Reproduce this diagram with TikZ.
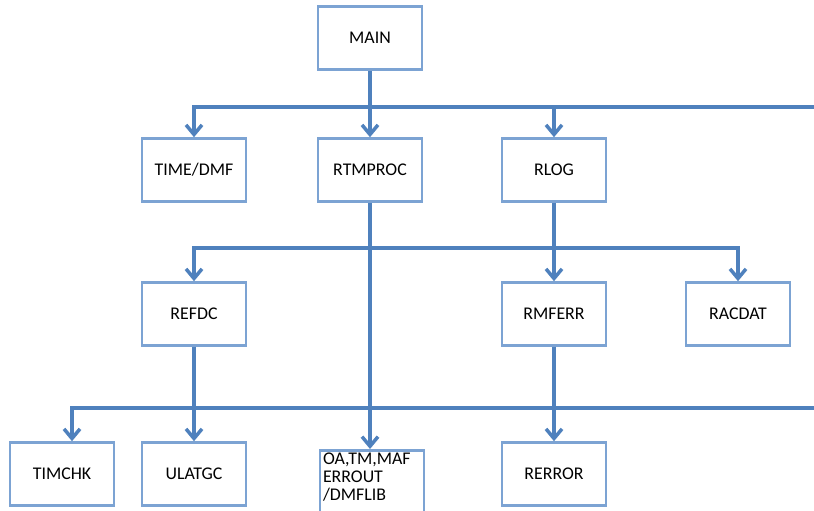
\documentclass[tikz,border=0pt]{standalone}
\usepackage{fontspec}
\setmainfont{Carlito}
\usetikzlibrary{arrows.meta,shadows}
\definecolor{linkblue}{RGB}{79,129,189}
\definecolor{boxblue}{RGB}{124,163,211}

\begin{document}
\begin{tikzpicture}[
    mybox/.style={draw=boxblue, line width=1.8pt, fill=white, minimum width=2.6cm, minimum height=1.575cm,
      font=\fontsize{12.7pt}{12.9pt}\selectfont,
      drop shadow={opacity=0.25, shadow xshift=0.7pt, shadow yshift=-0.9pt}},
    myarrow/.style={draw=linkblue, line width=2.5pt, -{Straight Barb[length=2.4mm,width=4mm]}}
  ]
  \useasboundingbox (0,0) rectangle (20.35,12.75);

  % boxes
  \node[mybox] (main) at (9.25,11.8) {MAIN};

  \node[mybox] (timedmf) at (4.85,8.5) {TIME/DMF};
  \node[mybox] (rtmproc) at (9.25,8.5) {RTMPROC};
  \node[mybox] (rlog) at (13.85,8.5) {RLOG};

  \node[mybox] (refdc) at (4.85,4.9) {REFDC};
  \node[mybox] (rmferr) at (13.85,4.9) {RMFERR};
  \node[mybox] (racdat) at (18.45,4.9) {RACDAT};

  \node[mybox] (timchk) at (1.55,0.9) {TIMCHK};
  \node[mybox] (ulatgc) at (4.85,0.9) {ULATGC};
  \node[mybox, anchor=north, align=left, text width=2.45cm, minimum height=0cm, inner sep=1.6pt,
    text depth=1.5cm] (oalib) at (9.3,1.525) {OA,TM,MAF\\ERROUT\\/DMFLIB};
  \node[mybox] (rerror) at (13.85,0.9) {RERROR};

  % first bus
  \coordinate (busend1) at (20.5,10.075);
  \draw[myarrow] (busend1) -| (timedmf.north);
  \draw[myarrow] (rlog.north |- busend1) -- (rlog.north);
  \draw[myarrow] (main.south) -- (rtmproc.north);

  % second bus
  \coordinate (bus2) at (9.25,6.55);
  \draw[myarrow] (bus2) -| (refdc.north);
  \draw[myarrow] (bus2) -| (racdat.north);
  \draw[myarrow] (rtmproc.south) -- (rtmproc.south |- oalib.north);
  \draw[myarrow] (rlog.south) -- (rmferr.north);

  % third bus
  \coordinate (busend3) at (20.5,2.55);
  \draw[myarrow] (busend3) -| ([xshift=0.25cm]timchk.north);
  \draw[myarrow] (refdc.south) -- (ulatgc.north);
  \draw[myarrow] (rmferr.south) -- (rerror.north);

\end{tikzpicture}
\end{document}
